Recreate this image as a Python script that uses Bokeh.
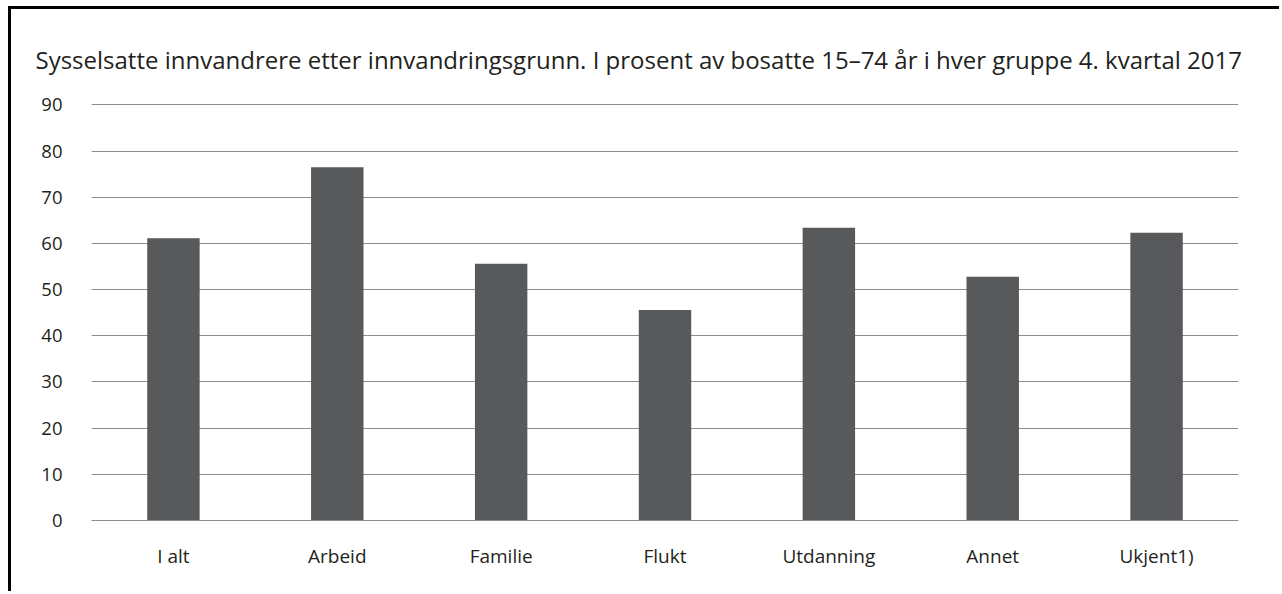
from bokeh.plotting import figure
from bokeh.models import ColumnDataSource, FactorRange, Range1d, FixedTicker, Title
from bokeh.embed import file_html
from bokeh.resources import INLINE

categories = ["I alt", "Arbeid", "Familie", "Flukt", "Utdanning", "Annet", "Ukjent1)"]
values = [61.1, 76.5, 55.6, 45.6, 63.4, 52.8, 62.3]
y_ticks = [0, 10, 20, 30, 40, 50, 60, 70, 80, 90]
title_text = "Sysselsatte innvandrere etter innvandringsgrunn. I prosent av bosatte 15\u201374 \u00e5r i hver gruppe 4. kvartal 2017"

FONT = "Open Sans"
TEXT = "#231f20"
GRID = "#8c8c8c"

source = ColumnDataSource(data=dict(cat=categories, val=values))

p = figure(
    x_range=FactorRange(*categories, range_padding=0),
    y_range=Range1d(0, 90.3),
    width=1271, height=585,
    output_backend="svg", toolbar_location=None,
    min_border_left=80, min_border_right=44,
    min_border_top=94, min_border_bottom=74,
)
p.styles = {"border-left": "3px solid black", "border-top": "3px solid black",
            "margin-left": "8px", "margin-top": "6px"}

p.vbar(x="cat", top="val", width=0.32, source=source, color="#58595b", line_color=None)

p.title = Title(text=title_text, text_font=FONT, text_font_size="24px",
                text_font_style="normal", text_color=TEXT, align="left", offset=-56,
                standoff=56)

p.outline_line_color = None
p.background_fill_color = "white"
p.border_fill_color = "white"

p.xgrid.grid_line_color = None
p.ygrid.grid_line_color = GRID
p.ygrid.grid_line_width = 1
p.yaxis.ticker = FixedTicker(ticks=y_ticks)

p.yaxis.axis_line_color = None
p.yaxis.major_tick_line_color = None
p.yaxis.minor_tick_line_color = None
p.yaxis.major_label_standoff = 23
p.yaxis.major_label_text_font = FONT
p.yaxis.major_label_text_font_size = "18.5px"
p.yaxis.major_label_text_color = TEXT

p.xaxis.axis_line_color = GRID
p.xaxis.major_tick_line_color = None
p.xaxis.minor_tick_line_color = None
p.xaxis.major_label_standoff = 16
p.xaxis.major_label_text_font = FONT
p.xaxis.major_label_text_font_size = "19px"
p.xaxis.major_label_text_color = TEXT

open("out.html", "w").write(file_html(p, INLINE))
